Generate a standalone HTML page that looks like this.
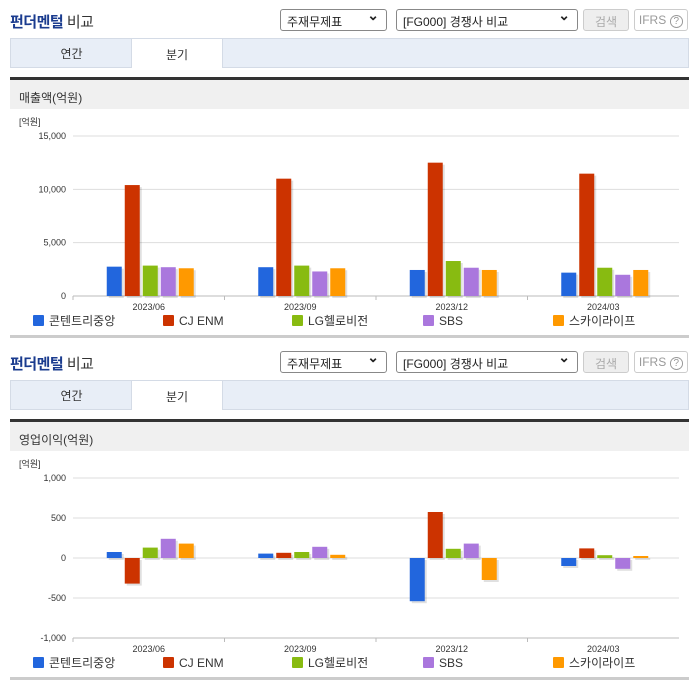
<!DOCTYPE html>
<html><head><meta charset="utf-8">
<style>
*{box-sizing:border-box;margin:0;padding:0}
body{width:696px;height:684px;background:#fff;font-family:"Liberation Sans","Noto Sans CJK KR",sans-serif;position:relative;overflow:hidden;color:#333}
.abs{position:absolute}
.title{font-size:15px;color:#1b3c8f;font-weight:bold;letter-spacing:-0.5px}
.title span{color:#333;font-weight:normal}
.sel{height:22px;border:1px solid #888;border-radius:3px;background:#fff;font-size:12px;padding:3px 6px;color:#222}
.sel:after{content:"⌄";position:absolute;right:7px;top:-3px;font-size:14px;font-weight:bold}
.btn{height:22px;border:1px solid #ccc;border-radius:3px;font-size:12px;color:#aaa;text-align:center;padding-top:3px}
.tabs{left:10px;width:679px;height:30px;background:#e8eef7;border:1px solid #d4dbe6}
.tab{top:-1px;height:30px;font-size:12px;text-align:center;padding-top:7px;color:#333}
.hdr{left:10px;width:679px;height:32px;background:#f0f0f0;border-top:3px solid #333;font-size:12px;padding:9px 0 0 9px}
.bot{left:10px;width:679px;height:3px;background:#ccc}
svg text{font-family:"Liberation Sans","Noto Sans CJK KR",sans-serif}
</style></head><body>
<div id="sec1"></div><div id="sec2"></div>
<script>
const categories=["2023/06","2023/09","2023/12","2024/03"];
const seriesNames=["콘텐트리중앙","CJ ENM","LG헬로비전","SBS","스카이라이프"];
const colors=["#2266dd","#cc3300","#88bb11","#aa77dd","#ff9900"];
const salesTicks=[0,5000,10000,15000];
const salesTickLabels=["0","5,000","10,000","15,000"];
const sales콘텐트리=[2750,2700,2440,2190];
const salesCJ=[10400,11000,12500,11470];
const salesLG=[2850,2850,3280,2650];
const salesSBS=[2700,2300,2650,1990];
const salesSky=[2600,2600,2440,2440];
const opTicks=[-1000,-500,0,500,1000];
const opTickLabels=["-1,000","-500","0","500","1,000"];
const op콘텐트리=[75,55,-540,-100];
const opCJ=[-320,65,575,120];
const opLG=[130,75,115,35];
const opSBS=[240,140,180,-135];
const opSky=[180,40,-275,25];

function section(id,off,header,series,ticks,tickLabels,min,max,plotTop,plotBot){
  const el=document.getElementById(id);
  let h='';
  h+=`<div class="abs title" style="left:10px;top:${off+11}px">펀더멘털 <span>비교</span></div>`;
  h+=`<div class="abs sel" style="left:280px;top:${off+9}px;width:107px">주재무제표</div>`;
  h+=`<div class="abs sel" style="left:396px;top:${off+9}px;width:182px">[FG000] 경쟁사 비교</div>`;
  h+=`<div class="abs btn" style="left:583px;top:${off+9}px;width:46px;background:#eee">검색</div>`;
  h+=`<div class="abs btn" style="left:634px;top:${off+9}px;width:54px;color:#999">IFRS <span style="border:1px solid #999;border-radius:50%;font-size:10px;padding:0 3px">?</span></div>`;
  h+=`<div class="abs tabs" style="top:${off+38}px">
   <div class="abs tab" style="left:0;width:121px">연간</div>
   <div class="abs tab" style="left:120px;width:92px;background:#fff;border:1px solid #d4dbe6;border-bottom:none;height:30px">분기</div></div>`;
  h+=`<div class="abs hdr" style="top:${off+77}px">${header}</div>`;
  h+=`<div class="abs bot" style="top:${off+335}px"></div>`;
  el.innerHTML=h;
  const ns="http://www.w3.org/2000/svg";
  const svg=document.createElementNS(ns,"svg");
  
  
  svg.setAttribute("width",696);svg.setAttribute("height",230);
  svg.style.position="absolute";svg.style.left="0";svg.style.top=(off+110)+"px";
  el.appendChild(svg);
  const x0=73,x1=679;
  const y=v=>plotBot-(v-min)/(max-min)*(plotBot-plotTop);
  const add=(tag,attrs,txt)=>{const e=document.createElementNS(ns,tag);for(const k in attrs)e.setAttribute(k,attrs[k]);if(txt!==undefined)e.textContent=txt;svg.appendChild(e);return e;};
  const u=add("text",{x:19,y:15,"font-size":9,fill:"#333"},"[억원]");
  
  
  ticks.forEach((t,i)=>{
    const g=add("line",{x1:x0,x2:x1,y1:y(t),y2:y(t),stroke:"#ddd","stroke-width":1});
    
    
    const tl=add("text",{x:66,y:y(t)+3,"font-size":9,fill:"#333","text-anchor":"end"},tickLabels[i]);
    
    
  });
  const ax=add("line",{x1:x0,x2:x1,y1:plotBot,y2:plotBot,stroke:"#bbb"});
  
  
  const cw=(x1-x0)/categories.length;
  categories.forEach((c,i)=>{
    const tk=add("line",{x1:x0+cw*i,x2:x0+cw*i,y1:plotBot,y2:plotBot+4,stroke:"#bbb"});
    
    
    const cl=add("text",{x:x0+cw*(i+0.5),y:plotBot+14,"font-size":9,fill:"#333","text-anchor":"middle"},c);
    
    
    series.forEach((s,j)=>{
      const bx=x0+cw*(i+0.5)-42+j*18;
      const v=s[i],yt=Math.min(y(v),y(0)),bh=Math.abs(y(v)-y(0));
      const sh=add("rect",{x:bx+2,y:yt+2,width:15,height:bh,fill:"#000",opacity:0.12});
      
      
      const r=add("rect",{x:bx,y:yt,width:15,height:bh,fill:colors[j]});
      
      
    });
  });
  const lx=[33,163,292,423,553];
  seriesNames.forEach((n,j)=>{
    const r=add("rect",{x:lx[j],y:plotBot+19,width:11,height:11,rx:1,fill:colors[j]});
    
    
    const t=add("text",{x:lx[j]+16,y:plotBot+29,"font-size":12,fill:"#333"},n);
    
    
  });
}
section("sec1",0,"매출액(억원)",[sales콘텐트리,salesCJ,salesLG,salesSBS,salesSky],salesTicks,salesTickLabels,0,15000,26,186);
section("sec2",342,"영업이익(억원)",[op콘텐트리,opCJ,opLG,opSBS,opSky],opTicks,opTickLabels,-1000,1000,26,186);
</script>
</body></html>
